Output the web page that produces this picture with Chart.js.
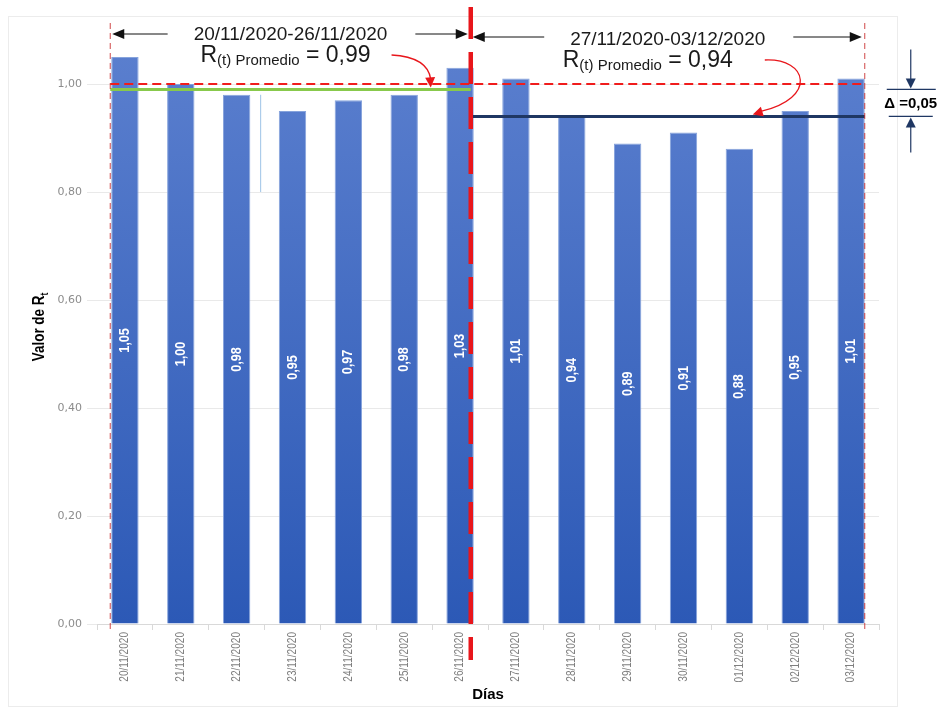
<!DOCTYPE html>
<html lang="es">
<head>
<meta charset="utf-8">
<title>Valor de Rt por día</title>
<script src="https://cdn.jsdelivr.net/npm/chart.js@4.4.1/dist/chart.umd.min.js"></script>
<style>
  html, body { margin: 0; padding: 0; background: #ffffff; }
  canvas { display: block; }
</style>
</head>
<body>
<canvas id="grafico" width="942" height="713"></canvas>
<script>
// Días del periodo y valor diario de Rt
const dias = ['20/11/2020', '21/11/2020', '22/11/2020', '23/11/2020', '24/11/2020', '25/11/2020', '26/11/2020',
              '27/11/2020', '28/11/2020', '29/11/2020', '30/11/2020', '01/12/2020', '02/12/2020', '03/12/2020'];
const valoresRt = [1.05, 1.00, 0.98, 0.95, 0.97, 0.98, 1.03, 1.01, 0.94, 0.89, 0.91, 0.88, 0.95, 1.01];

// Marcas del eje Y
const ticksY = [0, 0.2, 0.4, 0.6, 0.8, 1.0];

// Semanas comparadas: texto, primer y último índice de día, Rt promedio
const periodos = ['20/11/2020-26/11/2020', '27/11/2020-03/12/2020'];
const inicioPeriodo = [0, 7];
const finPeriodo = [6, 13];
const promedios = [0.99, 0.94];

// Umbral Rt = 1 y diferencia entre promedios
const umbralRt = 1.00;
const diferencia = 0.05;

// Trazo auxiliar vertical entre el 22/11 y el 23/11
const guiaVertical = [0.80, 0.98];

const coma = v => v.toFixed(2).replace('.', ',');
const SANS = '"Liberation Sans", Arial, sans-serif';
const ESTRECHO = 0.84; // compresión horizontal para simular una fuente estrecha

function punta(ctx, x, y, ang, largo, ancho) {
  const c = Math.cos(ang), s = Math.sin(ang);
  ctx.beginPath();
  ctx.moveTo(x, y);
  ctx.lineTo(x - largo * c + ancho * s, y - largo * s - ancho * c);
  ctx.lineTo(x - largo * c - ancho * s, y - largo * s + ancho * c);
  ctx.closePath();
  ctx.fill();
}

function flecha(ctx, x1, y1, x2, y2, color, lw, largo, ancho) {
  const ang = Math.atan2(y2 - y1, x2 - x1);
  ctx.save();
  ctx.strokeStyle = color;
  ctx.fillStyle = color;
  ctx.lineWidth = lw;
  ctx.setLineDash([]);
  ctx.beginPath();
  ctx.moveTo(x1, y1);
  ctx.lineTo(x2 - Math.cos(ang) * largo * 0.8, y2 - Math.sin(ang) * largo * 0.8);
  ctx.stroke();
  punta(ctx, x2, y2, ang, largo, ancho);
  ctx.restore();
}

function linea(ctx, x1, y1, x2, y2, color, lw, dash) {
  ctx.save();
  ctx.strokeStyle = color;
  ctx.lineWidth = lw;
  ctx.setLineDash(dash || []);
  ctx.beginPath();
  ctx.moveTo(x1, y1);
  ctx.lineTo(x2, y2);
  ctx.stroke();
  ctx.restore();
}

// Texto girado 90° (se lee de abajo arriba) y comprimido a lo largo
function textoVertical(ctx, txt, x, y, dy) {
  ctx.save();
  ctx.translate(x, y);
  ctx.rotate(-Math.PI / 2);
  ctx.scale(ESTRECHO, 1);
  ctx.fillText(txt, 0, dy || 0);
  ctx.restore();
}

// Título de periodo con flechas a los bordes y la línea "R(t) Promedio = x"
function encabezado(ctx, xa, xb, baseTitulo, yFlechas, texto, promedio, despl) {
  const cx = (xa + xb) / 2;
  ctx.save();
  ctx.fillStyle = '#1a1a1a';
  ctx.textBaseline = 'alphabetic';
  ctx.textAlign = 'center';
  ctx.font = '19px ' + SANS;
  ctx.fillText(texto, cx, baseTitulo);
  const w = ctx.measureText(texto).width;
  flecha(ctx, cx - w / 2 - 26, yFlechas, xa + 2, yFlechas, '#111', 1, 12, 5);
  flecha(ctx, cx + w / 2 + 28, yFlechas, xb - 3, yFlechas, '#111', 1, 12, 5);

  const baseR = baseTitulo + 22;
  const fGrande = '23px ' + SANS, fSub = '15px ' + SANS;
  const resto = ' = ' + coma(promedio);
  ctx.font = fGrande; const wR = ctx.measureText('R').width; const wResto = ctx.measureText(resto).width;
  ctx.font = fSub; const wSub = ctx.measureText('(t) Promedio').width;
  const total = wR + wSub + wResto;
  const x0 = cx + despl - total / 2;
  ctx.textAlign = 'left';
  ctx.font = fGrande; ctx.fillText('R', x0, baseR);
  ctx.font = fSub; ctx.fillText('(t) Promedio', x0 + wR, baseR + 3);
  ctx.font = fGrande; ctx.fillText(resto, x0 + wR + wSub, baseR);
  ctx.restore();
  return { fin: x0 + total, base: baseR };
}

const anotaciones = {
  id: 'anotaciones',
  beforeDraw(chart) {
    const { ctx } = chart;
    ctx.save();
    ctx.fillStyle = '#ffffff';
    ctx.fillRect(0, 0, chart.width, chart.height);
    ctx.strokeStyle = '#ececec';
    ctx.lineWidth = 1;
    ctx.strokeRect(8.5, 16.5, 889, 690);
    ctx.restore();
  },
  afterDatasetsDraw(chart) {
    const { ctx, chartArea, scales: { x, y } } = chart;
    const barras = chart.getDatasetMeta(0).data;
    const izq = i => barras[i].x - barras[i].width / 2;
    const der = i => barras[i].x + barras[i].width / 2;

    // Valores dentro de cada barra
    ctx.save();
    ctx.fillStyle = '#ffffff';
    ctx.font = 'bold 15px ' + SANS;
    ctx.textAlign = 'center';
    ctx.textBaseline = 'middle';
    valoresRt.forEach((v, i) => {
      const yc = (y.getPixelForValue(v) + y.getPixelForValue(0)) / 2;
      textoVertical(ctx, coma(v), barras[i].x, yc, 0);
    });
    ctx.restore();

    const xIni = izq(inicioPeriodo[0]) - 1;
    const xCorte = der(finPeriodo[0]) - 3;
    const xFin = der(finPeriodo[1]);

    // Trazo auxiliar fino
    const step = x.getPixelForValue(1) - x.getPixelForValue(0);
    const xGuia = x.getPixelForValue(2) + 0.43 * step;
    linea(ctx, xGuia, y.getPixelForValue(guiaVertical[1]), xGuia, y.getPixelForValue(guiaVertical[0]), '#9dc3e6', 1);

    // Umbral Rt = 1
    const yUmbral = y.getPixelForValue(umbralRt);
    linea(ctx, xIni, yUmbral, xFin, yUmbral, '#f01c1c', 2, [9, 5]);

    // Promedios de cada semana
    const yP1 = y.getPixelForValue(promedios[0]);
    const yP2 = y.getPixelForValue(promedios[1]);
    linea(ctx, xIni, yP1, xCorte, yP1, '#88c94c', 3);
    linea(ctx, xCorte, yP2, xFin, yP2, '#1f3763', 3);

    // Límites finos de los periodos
    linea(ctx, xIni, chartArea.top - 7, xIni, chartArea.bottom + 9, 'rgba(200,40,40,0.85)', 1, [6, 4]);
    linea(ctx, xFin, chartArea.top - 7, xFin, chartArea.bottom + 9, 'rgba(200,40,40,0.85)', 1, [6, 4]);

    // Separación entre semanas
    linea(ctx, xCorte, 7, xCorte, chartArea.bottom + 36, '#e8161b', 4.5, [32, 13]);

    // Encabezados
    const e1 = encabezado(ctx, xIni, xCorte, 40, 34, periodos[0], promedios[0], -5);
    const e2 = encabezado(ctx, xCorte, xFin, 45, 37, periodos[1], promedios[1], -20);

    // Flechas curvas rojas hacia cada promedio
    ctx.save();
    ctx.strokeStyle = '#e8161b';
    ctx.fillStyle = '#e8161b';
    ctx.lineWidth = 1.3;
    const a1x = e1.fin + 21, a1y = e1.base - 7;
    const b1x = xCorte - 40, b1y = yP1 - 2;
    ctx.beginPath();
    ctx.moveTo(a1x, a1y);
    ctx.quadraticCurveTo(b1x - 3, a1y + 2, b1x, b1y - 8);
    ctx.stroke();
    punta(ctx, b1x, b1y, Math.atan2(8, 0.5), 10, 5);

    const a2x = e2.fin + 32, a2y = e2.base - 7;
    const b2x = xFin - 112, b2y = yP2 - 2;
    ctx.beginPath();
    ctx.moveTo(a2x, a2y);
    ctx.bezierCurveTo(a2x + 43, a2y - 2, a2x + 53, a2y + 38, b2x + 8, b2y - 3);
    ctx.stroke();
    punta(ctx, b2x, b2y, Math.atan2(17, -55), 10, 5);
    ctx.restore();

    // Diferencia entre promedios
    const xD = xFin + 46;
    linea(ctx, xD - 24, yP1, xD + 25, yP1, '#1f3763', 1.2);
    linea(ctx, xD - 22, yP2, xD + 22, yP2, '#1f3763', 1.2);
    flecha(ctx, xD, yP1 - 40, xD, yP1 - 1, '#1f3763', 1.2, 10, 5);
    flecha(ctx, xD, yP2 + 36, xD, yP2 + 1, '#1f3763', 1.2, 10, 5);
    ctx.save();
    ctx.fillStyle = '#000';
    ctx.font = 'bold 15px ' + SANS;
    ctx.textAlign = 'center';
    ctx.textBaseline = 'middle';
    ctx.fillText('\u0394 =' + coma(diferencia), xD, (yP1 + yP2) / 2 + 1);
    ctx.restore();
  },
  afterDraw(chart) {
    const { ctx, chartArea, scales: { x } } = chart;
    // Etiquetas de día, giradas
    ctx.save();
    ctx.fillStyle = '#7f7f7f';
    ctx.font = '12px ' + SANS;
    ctx.textAlign = 'right';
    ctx.textBaseline = 'middle';
    dias.forEach((d, i) => textoVertical(ctx, d, x.getPixelForValue(i), chartArea.bottom + 8, 0));
    ctx.restore();

    // Título del eje X
    ctx.save();
    ctx.fillStyle = '#000';
    ctx.font = 'bold 15px ' + SANS;
    ctx.textAlign = 'center';
    ctx.textBaseline = 'middle';
    ctx.fillText('Días', (chartArea.left + chartArea.right) / 2, chartArea.bottom + 71);
    ctx.restore();

    // Título del eje Y con subíndice
    ctx.save();
    ctx.fillStyle = '#000';
    const fPrin = 'bold 16px ' + SANS, fSub = 'bold 10px ' + SANS;
    ctx.font = fPrin; const w1 = ctx.measureText('Valor de R').width * ESTRECHO;
    ctx.font = fSub; const w2 = ctx.measureText('t').width * ESTRECHO;
    ctx.textBaseline = 'middle';
    ctx.textAlign = 'left';
    const yMedio = (chartArea.top + chartArea.bottom) / 2;
    ctx.font = fPrin; textoVertical(ctx, 'Valor de R', 40, yMedio + (w1 + w2) / 2, 0);
    ctx.font = fSub; textoVertical(ctx, 't', 40, yMedio + (w1 + w2) / 2 - w1, 5);
    ctx.restore();
  }
};

new Chart(document.getElementById('grafico'), {
  type: 'bar',
  data: {
    labels: dias,
    datasets: [{
      data: valoresRt,
      backgroundColor: c => {
        const a = c.chart.chartArea;
        if (!a) return '#3f6cc6';
        const g = c.chart.ctx.createLinearGradient(0, a.top, 0, a.bottom);
        g.addColorStop(0, '#5c80cf');
        g.addColorStop(1, '#2c59b6');
        return g;
      },
      borderColor: '#86a3dc',
      borderWidth: 1,
      barPercentage: 0.49,
      categoryPercentage: 1
    }]
  },
  options: {
    responsive: false,
    animation: false,
    devicePixelRatio: 1,
    layout: { padding: { top: 30, right: 63, bottom: 0, left: 0 } },
    plugins: { legend: { display: false }, tooltip: { enabled: false } },
    scales: {
      x: {
        grid: { display: true, drawOnChartArea: false, offset: true, tickLength: 6, color: '#d9d9d9' },
        border: { color: '#d9d9d9' },
        ticks: { display: false },
        afterFit: s => { s.height = 89; }
      },
      y: {
        min: 0,
        max: 1.1,
        afterBuildTicks: s => { s.ticks = ticksY.map(v => ({ value: v })); },
        grid: { color: '#e9e9e9', tickLength: 10 },
        border: { display: false },
        ticks: {
          padding: 5,
          color: '#8c8c8c',
          font: { family: '"DejaVu Sans", sans-serif', size: 11 },
          callback: v => coma(v)
        },
        afterFit: s => { s.width = 97; }
      }
    }
  },
  plugins: [anotaciones]
});
</script>
</body>
</html>
